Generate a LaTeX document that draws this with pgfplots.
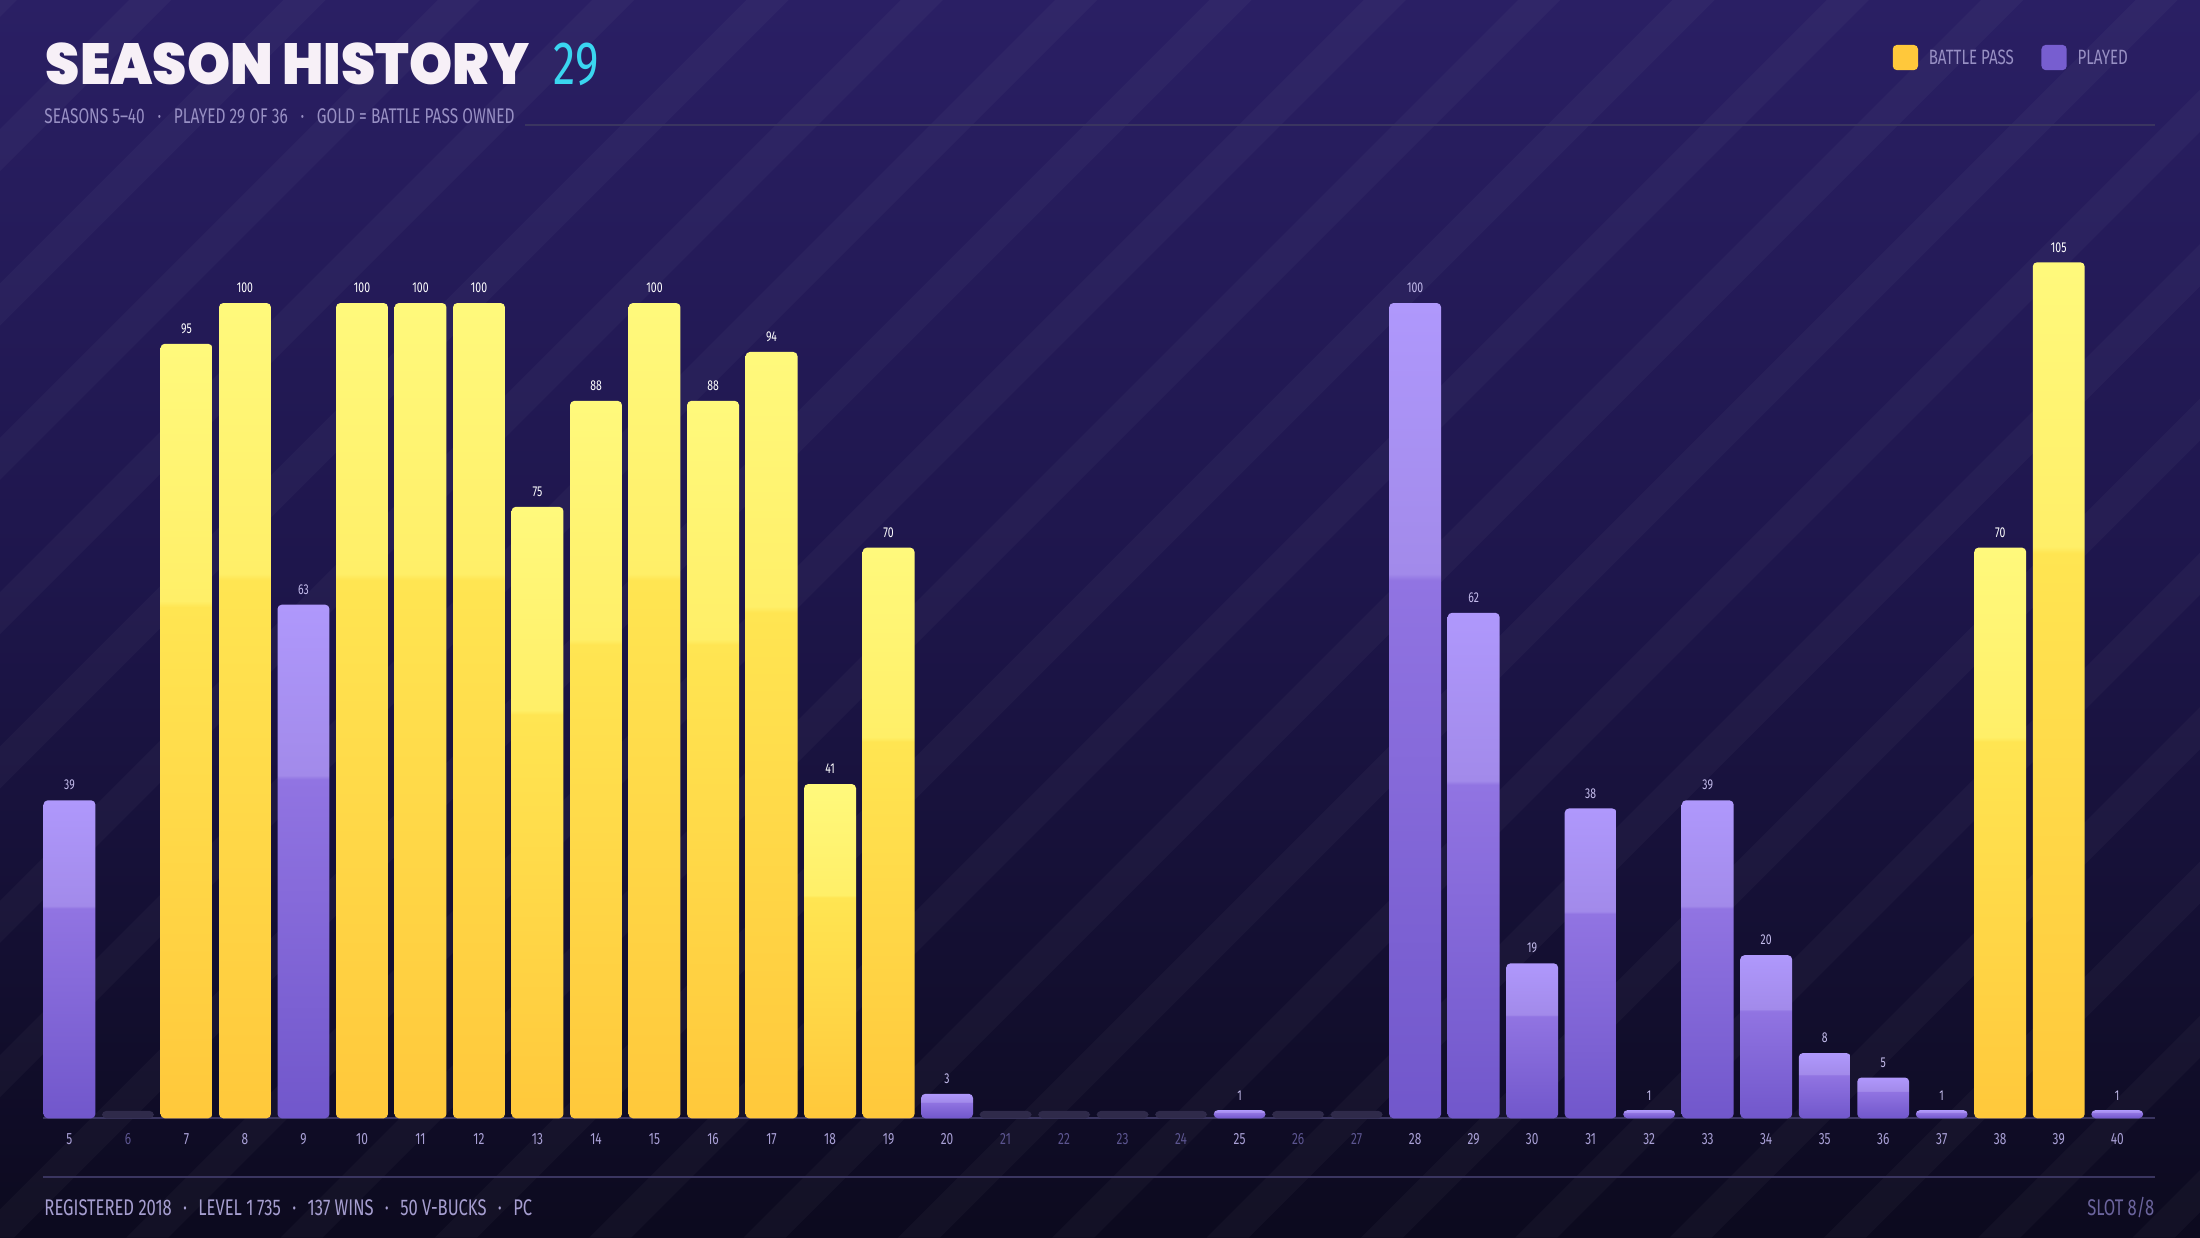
\documentclass[border=0pt]{standalone}
\usepackage{pgfplots}
\pgfplotsset{compat=1.18}
\usepackage{fontspec}
\setmainfont{Fira Sans}[FakeStretch=0.73]
\newfontfamily\titlefont{Poppins Black}
\definecolor{gT}{HTML}{FFF97C}
\definecolor{gSa}{HTML}{FFEF68}
\definecolor{gSb}{HTML}{FFE552}
\definecolor{gB}{HTML}{FFC83B}
\definecolor{pT}{HTML}{AF98FC}
\definecolor{pSa}{HTML}{A28AEA}
\definecolor{pSb}{HTML}{9174E2}
\definecolor{pB}{HTML}{7157CB}
\definecolor{stub}{HTML}{2F2A4A}
\definecolor{bgT}{HTML}{2A1F64}
\definecolor{bgM}{HTML}{1E164C}
\definecolor{bgB}{HTML}{0C0A1E}
\definecolor{sub}{HTML}{9890C4}
\definecolor{foot}{HTML}{A69ED0}
\definecolor{tickon}{HTML}{A9A0D6}
\definecolor{tickoff}{HTML}{5C5590}
\definecolor{pval}{HTML}{C4BCEC}
\definecolor{cyanT}{HTML}{3AD6F0}
\definecolor{lineC}{HTML}{3A3560}
\pgfdeclareverticalshading{goldbar}{100bp}{color(0bp)=(gB); color(25bp)=(gB); color(58bp)=(gSb); color(58.4bp)=(gSa); color(75bp)=(gT); color(100bp)=(gT)}
\pgfdeclareverticalshading{purpbar}{100bp}{color(0bp)=(pB); color(25bp)=(pB); color(58bp)=(pSb); color(58.4bp)=(pSa); color(75bp)=(pT); color(100bp)=(pT)}
\pgfdeclareverticalshading{bgshade}{100bp}{color(0bp)=(bgB); color(25bp)=(bgB); color(52bp)=(bgM); color(75bp)=(bgT); color(100bp)=(bgT)}
\newcommand{\on}[1]{\textcolor{tickon}{#1}}
\newcommand{\off}[1]{\textcolor{tickoff}{#1}}
\pgfplotsset{
  barbase/.style={ybar, bar width=0.37cm, bar shift=0pt, draw=none, rounded corners=0.03cm},
  gbar/.style={barbase, shading=goldbar, nodes near coords, every node near coord/.append style={text=white}},
  pbar/.style={barbase, shading=purpbar, nodes near coords, every node near coord/.append style={text=pval}},
  sbar/.style={barbase, fill=stub},
}
\begin{document}
\begin{tikzpicture}
\path[use as bounding box] (0,0) rectangle (15.68,8.82);
\shade[shading=bgshade] (0,0) rectangle (15.68,8.82);
\begin{scope}
\clip (0,0) rectangle (15.68,8.82);
\foreach \c in {-9.0,-7.9,...,16.0}{
  \fill[white, opacity=0.03] (\c,0) -- (\c+0.3,0) -- (\c+9.12,8.82) -- (\c+8.82,8.82) -- cycle;
}
\end{scope}
% header
\node[anchor=base west, inner sep=0pt, text=white!94!violet] at (0.32,8.22) {\fontsize{11.4pt}{12pt}\titlefont\scalebox{0.975}[1.03]{SEASON HISTORY}};
\node[anchor=base west, inner sep=0pt, text=cyanT] at (3.94,8.22) {\fontsize{12.4pt}{13pt}\selectfont 29};
\node[anchor=base west, inner sep=0pt, text=sub] at (0.31,7.94) {\fontsize{4.3pt}{5pt}\selectfont SEASONS 5–40\hspace{0.6em}·\hspace{0.6em}PLAYED 29 OF 36\hspace{0.6em}·\hspace{0.6em}GOLD = BATTLE PASS OWNED};
\draw[lineC, line width=0.01cm] (3.74,7.93) -- (15.36,7.93);
% legend
\fill[gB, rounded corners=0.03cm] (13.49,8.32) rectangle (13.67,8.50);
\node[anchor=base west, inner sep=0pt, text=sub] at (13.74,8.36) {\fontsize{4.2pt}{5pt}\selectfont BATTLE PASS};
\fill[pB!90!pT, rounded corners=0.03cm] (14.55,8.32) rectangle (14.73,8.50);
\node[anchor=base west, inner sep=0pt, text=sub] at (14.80,8.36) {\fontsize{4.2pt}{5pt}\selectfont PLAYED};
% footer
\draw[lineC, line width=0.01cm] (0.31,0.43) -- (15.36,0.43);
\node[anchor=base west, inner sep=0pt, text=foot] at (0.31,0.16) {\fontsize{4.6pt}{5pt}\selectfont REGISTERED 2018\hspace{0.5em}·\hspace{0.5em}LEVEL 1\,735\hspace{0.5em}·\hspace{0.5em}137 WINS\hspace{0.5em}·\hspace{0.5em}50 V-BUCKS\hspace{0.5em}·\hspace{0.5em}PC};
\node[anchor=base east, inner sep=0pt, text=tickoff!80!foot] at (15.36,0.16) {\fontsize{4.6pt}{5pt}\selectfont SLOT 8/8};
\draw[lineC, line width=0.012cm] (0.31,0.85) -- (15.36,0.85);
\begin{axis}[
  at={(0.2865cm,0.85cm)}, anchor=south west,
  scale only axis, width=15.012cm, height=6.391cm,
  xmin=4.5, xmax=40.5, ymin=0, ymax=110,
  axis line style={draw=none}, tick style={draw=none},
  ytick=\empty,
  xtick={5,...,40},
  xticklabels={\on{5},\off{6},\on{7},\on{8},\on{9},\on{10},\on{11},\on{12},\on{13},\on{14},\on{15},\on{16},\on{17},\on{18},\on{19},\on{20},\off{21},\off{22},\off{23},\off{24},\on{25},\off{26},\off{27},\on{28},\on{29},\on{30},\on{31},\on{32},\on{33},\on{34},\on{35},\on{36},\on{37},\on{38},\on{39},\on{40}},
  xticklabel style={font=\fontsize{3.3pt}{4pt}\selectfont, inner sep=0pt, anchor=north, yshift=-0.1cm},
  clip=false,
  /pgf/number format/assume math mode=true,
  every node near coord/.append style={font=\fontsize{2.9pt}{3.5pt}\selectfont, inner sep=0pt, anchor=south, yshift=0.065cm},
]
% not played (stubs)
\addplot[sbar] coordinates {(6,0.9)};
\addplot[sbar] coordinates {(21,0.9)};
\addplot[sbar] coordinates {(22,0.9)};
\addplot[sbar] coordinates {(23,0.9)};
\addplot[sbar] coordinates {(24,0.9)};
\addplot[sbar] coordinates {(26,0.9)};
\addplot[sbar] coordinates {(27,0.9)};
% played
\addplot[pbar] coordinates {(5,39)};
\addplot[pbar] coordinates {(9,63)};
\addplot[pbar] coordinates {(20,3)};
\addplot[pbar] coordinates {(25,1)};
\addplot[pbar] coordinates {(28,100)};
\addplot[pbar] coordinates {(29,62)};
\addplot[pbar] coordinates {(30,19)};
\addplot[pbar] coordinates {(31,38)};
\addplot[pbar] coordinates {(32,1)};
\addplot[pbar] coordinates {(33,39)};
\addplot[pbar] coordinates {(34,20)};
\addplot[pbar] coordinates {(35,8)};
\addplot[pbar] coordinates {(36,5)};
\addplot[pbar] coordinates {(37,1)};
\addplot[pbar] coordinates {(40,1)};
% battle pass
\addplot[gbar] coordinates {(7,95)};
\addplot[gbar] coordinates {(8,100)};
\addplot[gbar] coordinates {(10,100)};
\addplot[gbar] coordinates {(11,100)};
\addplot[gbar] coordinates {(12,100)};
\addplot[gbar] coordinates {(13,75)};
\addplot[gbar] coordinates {(14,88)};
\addplot[gbar] coordinates {(15,100)};
\addplot[gbar] coordinates {(16,88)};
\addplot[gbar] coordinates {(17,94)};
\addplot[gbar] coordinates {(18,41)};
\addplot[gbar] coordinates {(19,70)};
\addplot[gbar] coordinates {(38,70)};
\addplot[gbar] coordinates {(39,105)};
\end{axis}
\end{tikzpicture}
\end{document}
